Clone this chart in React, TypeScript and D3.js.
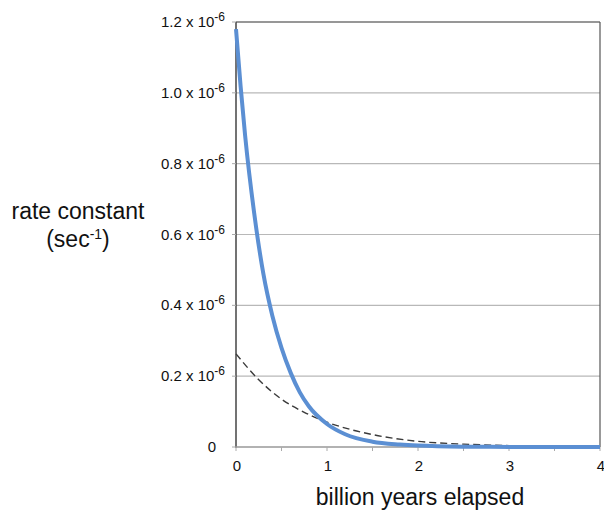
import React from 'react';
import * as d3 from 'd3';

// values (x in billion years, y in units of 1e-6 per sec)
const blueX = [0, 0.05, 0.1, 0.2, 0.3, 0.4, 0.5, 0.6, 0.7, 0.8, 1.0, 1.2, 1.5, 1.8, 2.0, 2.5, 3.0, 3.5, 4.0];
const blueY = [1.18, 1.02, 0.88, 0.66, 0.49, 0.37, 0.28, 0.21, 0.155, 0.115, 0.065, 0.036, 0.015, 0.007, 0.004, 0.001, 0.0003, 0, 0];
const dashX = [0, 0.25, 0.5, 0.75, 1.0, 1.25, 1.5, 2.0, 2.5, 3.0, 3.4];
const dashY = [0.263, 0.19, 0.135, 0.098, 0.07, 0.05, 0.035, 0.016, 0.008, 0.004, 0.002];
const yTicks = [0, 0.2, 0.4, 0.6, 0.8, 1.0, 1.2];
const xTicks = [0, 1, 2, 3, 4];
const xMinor = [0.5, 1.5, 2.5, 3.5];

const font = 'Liberation Sans, Arial, sans-serif';

export default function App() {
  const W = 604, H = 510;
  const left = 236, right = 600, top = 22, bottom = 447;

  const x = d3.scaleLinear().domain([0, 4]).range([left, right]);
  const y = d3.scaleLinear().domain([0, 1.2]).range([bottom, top]);

  const bluePath = d3.line<number>()
    .x((d, i) => x(blueX[i]))
    .y(d => y(d))
    .curve(d3.curveMonotoneX)(blueY);
  const dashPath = d3.line<number>()
    .x((d, i) => x(dashX[i]))
    .y(d => y(d))
    .curve(d3.curveMonotoneX)(dashY);

  return (
    <svg width={W} height={H} style={{ position: 'absolute', left: 0, top: 0 }} fontFamily={font}>
      <rect width={W} height={H} fill="#fff" />
      {/* gridlines */}
      {yTicks.filter(t => t > 0).map(t => (
        <line key={t} x1={left} x2={right} y1={y(t)} y2={y(t)} stroke="#b8b8b8" strokeWidth={1.2} />
      ))}
      {/* frame */}
      <line x1={left} x2={right} y1={top} y2={top} stroke="#555" strokeWidth={1.2} />
      <line x1={right} x2={right} y1={top} y2={bottom} stroke="#555" strokeWidth={1.2} />
      <line x1={left} x2={left} y1={top} y2={bottom + 1} stroke="#444" strokeWidth={1.5} />
      <line x1={left} x2={right} y1={bottom} y2={bottom} stroke="#999" strokeWidth={1.5} />
      {/* x ticks */}
      {xTicks.concat(xMinor).map(t => (
        <line key={'t' + t} x1={x(t)} x2={x(t)} y1={bottom} y2={bottom + 4} stroke="#aaa" strokeWidth={1} />
      ))}
      {/* y tick marks */}
      {yTicks.map(t => (
        <line key={'y' + t} x1={left - 4} x2={left} y1={y(t)} y2={y(t)} stroke="#aaa" strokeWidth={1} />
      ))}
      {/* curves */}
      <path d={dashPath ?? ''} fill="none" stroke="#3a3a3a" strokeWidth={1.4} strokeDasharray="7,4" />
      <path d={bluePath ?? ''} fill="none" stroke="#5b8fd3" strokeWidth={4} />
      {/* y tick labels */}
      {yTicks.map(t => t === 0 ? (
        <text key={'l' + t} x={216} y={y(t) + 5} fontSize={15} textAnchor="end" fill="#111">0</text>
      ) : (
        <text key={'l' + t} x={225} y={y(t) + 5} fontSize={15} textAnchor="end" fill="#111">
          {t.toFixed(1)} x 10<tspan fontSize={12} dy={-6}>-6</tspan>
        </text>
      ))}
      {/* x tick labels */}
      {xTicks.map(t => (
        <text key={'x' + t} x={x(t) + 1} y={471} fontSize={15} textAnchor="middle" fill="#111">{t}</text>
      ))}
      {/* axis titles */}
      <text x={420} y={505} fontSize={23} textAnchor="middle" fill="#111">billion years elapsed</text>
      <text x={78} y={219} fontSize={23} textAnchor="middle" fill="#111">rate constant</text>
      <text x={78} y={247} fontSize={23} textAnchor="middle" fill="#111">
        (sec<tspan fontSize={14} dy={-8}>-1</tspan><tspan dy={8}>)</tspan>
      </text>
    </svg>
  );
}
